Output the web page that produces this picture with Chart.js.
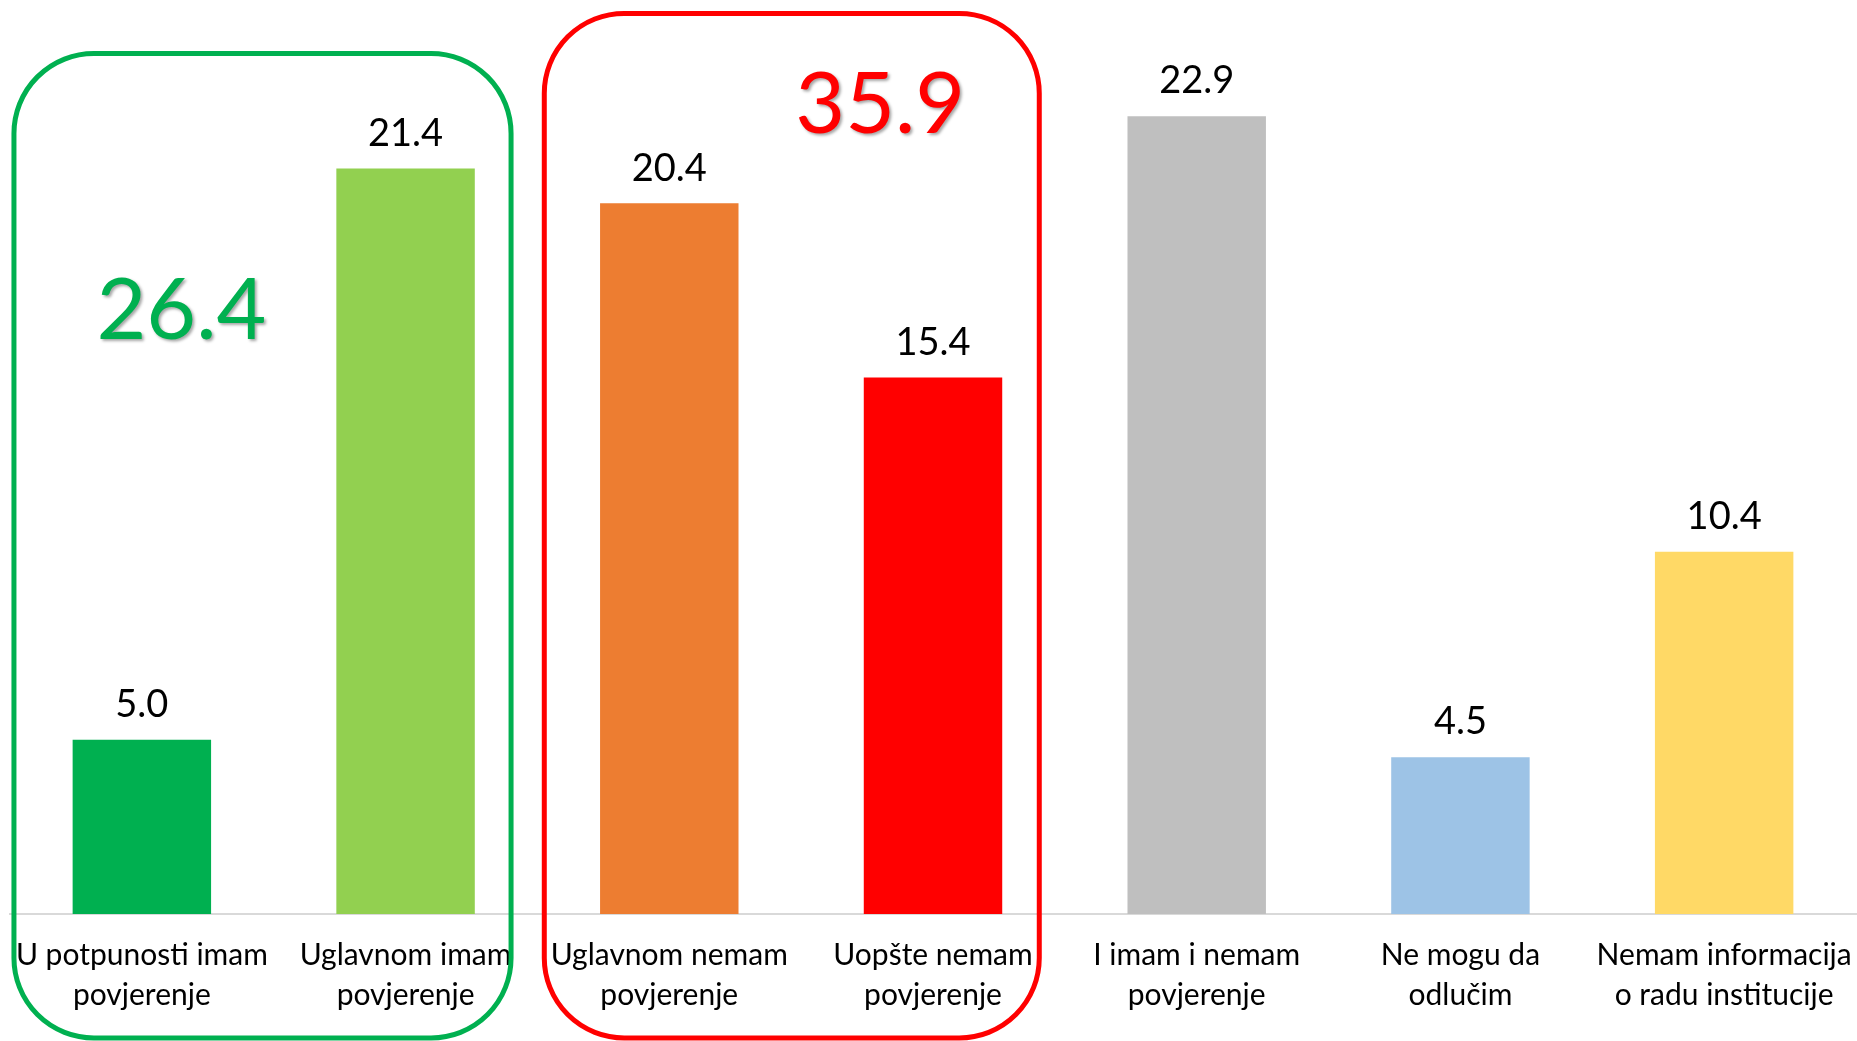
<!DOCTYPE html>
<html>
<head>
<meta charset="utf-8">
<script src="https://cdn.jsdelivr.net/npm/chart.js@4/dist/chart.umd.min.js"></script>
<style>
  html, body { margin: 0; padding: 0; background: #fff; }
  #wrap { width: 1857px; height: 1041px; }
</style>
</head>
<body>
<div id="wrap"><canvas id="trustChart" width="1857" height="1041"></canvas></div>
<script>
// ===== DATA =====
const categories = [
  ['U potpunosti imam', 'povjerenje'],
  ['Uglavnom imam', 'povjerenje'],
  ['Uglavnom nemam', 'povjerenje'],
  ['Uopšte nemam', 'povjerenje'],
  ['I imam i nemam', 'povjerenje'],
  ['Ne mogu da', 'odlučim'],
  ['Nemam informacija', 'o radu institucije']
];
const values = [5.0, 21.4, 20.4, 15.4, 22.9, 4.5, 10.4];
const barColors = ['#00b050', '#92d050', '#ed7d31', '#ff0000', '#bfbfbf', '#9dc3e6', '#ffd966'];
const groupTotals = ['26.4', '35.9'];
const groupColors = ['#00b050', '#ff0000'];

const FONT = 'Lato, "Open Sans", sans-serif';

// ===== LABELS + GROUP BOXES =====
const overlayPlugin = {
  id: 'overlay',
  afterDatasetsDraw(chart) {
    const { ctx, scales: { x, y } } = chart;
    const step = x.getPixelForValue(1) - x.getPixelForValue(0);
    const meta = chart.getDatasetMeta(0);

    // value labels
    ctx.save();
    ctx.fillStyle = '#000';
    ctx.font = '38px ' + FONT;
    ctx.textAlign = 'center';
    ctx.textBaseline = 'bottom';
    meta.data.forEach((bar, i) => {
      ctx.fillText(values[i].toFixed(1), bar.x, bar.y - 16);
    });
    ctx.restore();

    // rounded group boxes
    const bottom = chart.height - 3;
    const boxes = [
      { l: x.getPixelForValue(0) - 0.485 * step, r: x.getPixelForValue(1) + 0.40 * step, t: y.getPixelForValue(24.7) },
      { l: x.getPixelForValue(2) - 0.474 * step, r: x.getPixelForValue(3) + 0.403 * step, t: y.getPixelForValue(25.85) }
    ];
    ctx.save();
    ctx.lineWidth = 5;
    boxes.forEach((b, i) => {
      ctx.strokeStyle = groupColors[i];
      ctx.beginPath();
      ctx.roundRect(b.l, b.t, b.r - b.l, bottom - b.t, 80);
      ctx.stroke();
    });
    ctx.restore();

    // group totals
    const totals = [
      { px: x.getPixelForValue(0) + 0.15 * step, py: y.getPixelForValue(17.3) },
      { px: x.getPixelForValue(2) + 0.80 * step, py: y.getPixelForValue(23.2) }
    ];
    ctx.save();
    ctx.font = '86px ' + FONT;
    ctx.textAlign = 'center';
    ctx.textBaseline = 'middle';
    ctx.shadowColor = 'rgba(0,0,0,0.35)';
    ctx.shadowOffsetX = 2;
    ctx.shadowOffsetY = 2;
    ctx.shadowBlur = 3;
    totals.forEach((t, i) => {
      ctx.fillStyle = groupColors[i];
      ctx.fillText(groupTotals[i], t.px, t.py);
    });
    ctx.restore();
  }
};

// ===== CHART =====
new Chart(document.getElementById('trustChart'), {
  type: 'bar',
  data: {
    labels: categories,
    datasets: [{
      data: values,
      backgroundColor: barColors,
      borderWidth: 0,
      categoryPercentage: 1,
      barPercentage: 0.525
    }]
  },
  options: {
    responsive: false,
    animation: false,
    layout: { padding: { top: 43, left: 10, right: 1, bottom: 0 } },
    plugins: { legend: { display: false }, tooltip: { enabled: false } },
    scales: {
      x: {
        grid: { display: false, drawTicks: false },
        border: { display: true, color: '#d9d9d9', width: 2 },
        ticks: { color: '#000', font: { family: FONT, size: 30, lineHeight: 1.32 }, padding: 22, maxRotation: 0, autoSkip: false },
        afterFit(scale) {
          scale.height = 127;
          scale.paddingLeft = 0;
          scale.paddingRight = 0;
        }
      },
      y: { display: false, min: 0, max: 25 }
    }
  },
  plugins: [overlayPlugin]
});
</script>
</body>
</html>
